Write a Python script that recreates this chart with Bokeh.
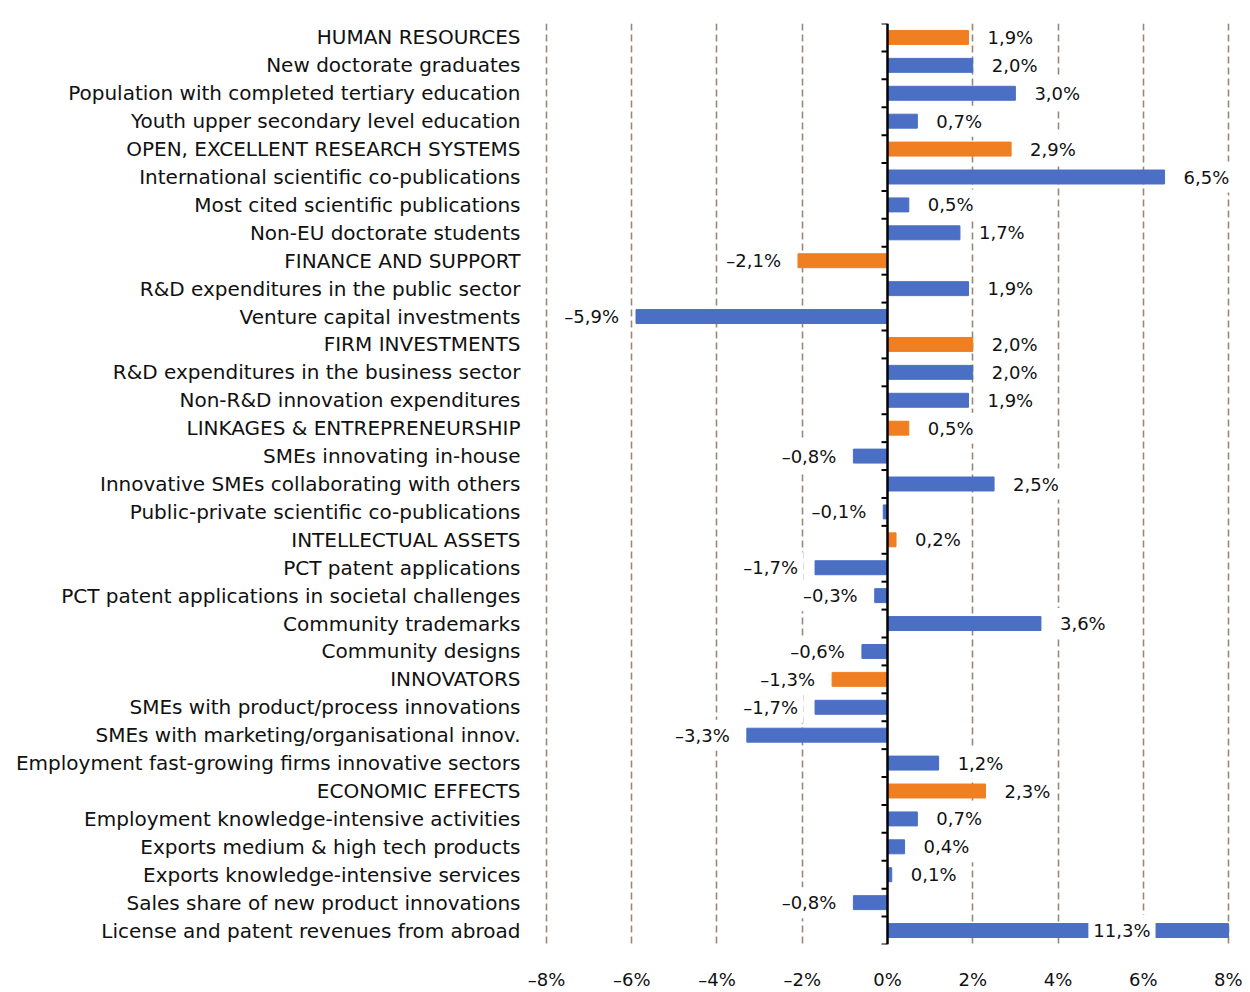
import numpy as np
from bokeh.plotting import figure
from bokeh.models import ColumnDataSource, Range1d, FixedTicker, Span
from bokeh.core.properties import value
from bokeh.embed import file_html
from bokeh.resources import INLINE

categories = [
    "HUMAN RESOURCES",
    "New doctorate graduates",
    "Population with completed tertiary education",
    "Youth upper secondary level education",
    "OPEN, EXCELLENT RESEARCH SYSTEMS",
    "International scientific co-publications",
    "Most cited scientific publications",
    "Non-EU doctorate students",
    "FINANCE AND SUPPORT",
    "R&D expenditures in the public sector",
    "Venture capital investments",
    "FIRM INVESTMENTS",
    "R&D expenditures in the business sector",
    "Non-R&D innovation expenditures",
    "LINKAGES & ENTREPRENEURSHIP",
    "SMEs innovating in-house",
    "Innovative SMEs collaborating with others",
    "Public-private scientific co-publications",
    "INTELLECTUAL ASSETS",
    "PCT patent applications",
    "PCT patent applications in societal challenges",
    "Community trademarks",
    "Community designs",
    "INNOVATORS",
    "SMEs with product/process innovations",
    "SMEs with marketing/organisational innov.",
    "Employment fast-growing firms innovative sectors",
    "ECONOMIC EFFECTS",
    "Employment knowledge-intensive activities",
    "Exports medium & high tech products",
    "Exports knowledge-intensive services",
    "Sales share of new product innovations",
    "License and patent revenues from abroad",
]
values = [1.9, 2.0, 3.0, 0.7, 2.9, 6.5, 0.5, 1.7, -2.1, 1.9, -5.9, 2.0, 2.0, 1.9,
          0.5, -0.8, 2.5, -0.1, 0.2, -1.7, -0.3, 3.6, -0.6, -1.3, -1.7, -3.3, 1.2,
          2.3, 0.7, 0.4, 0.1, -0.8, 11.3]
is_group = [c.isupper() for c in categories]
x_ticks = [-8, -6, -4, -2, 0, 2, 4, 6, 8]
x_tick_labels = ["–8%", "–6%", "–4%", "–2%", "0%", "2%", "4%", "6%", "8%"]

BLUE = "#4a6fc4"
ORANGE = "#f07f22"
XMIN, XMAX = -8, 8
PAD = 0.07

n = len(categories)
idx = np.arange(n)
vals = np.array(values)
colors = [ORANGE if g else BLUE for g in is_group]

def fmt(v):
    return (f"{v:.1f}".replace(".", ",") + "%").replace("-", "–")

lab_x, lab_align, lab_off = [], [], []
for v in vals:
    if v > XMAX:
        lab_x.append(XMAX - 2.5); lab_align.append("center"); lab_off.append(0)
    elif v >= 0:
        lab_x.append(v); lab_align.append("left"); lab_off.append(14)
    else:
        lab_x.append(v); lab_align.append("right"); lab_off.append(-12)

# bars beyond the axis end are cut at the axis end (as in the original chart)
bars = ColumnDataSource(dict(y=idx, right=np.clip(vals, XMIN, XMAX), color=colors))
labels = ColumnDataSource(dict(x=lab_x, y=idx, text=[fmt(v) for v in vals],
                               align=lab_align, off=lab_off))

p = figure(width=1242, height=992, output_backend="svg", toolbar_location=None,
           x_range=Range1d(XMIN - PAD, XMAX + PAD), y_range=Range1d(n - 0.5, -0.5),
           min_border_left=543, min_border_right=11, min_border_top=23,
           min_border_bottom=47)
p.outline_line_color = None
p.background_fill_color = "white"

p.hbar(y="y", left=0, right="right", height=0.5, color="color", source=bars)

# zero line and its tick marks at category boundaries
p.add_layout(Span(location=0, dimension="height", line_color="black", line_width=2.5))
bounds = np.arange(n + 1) - 0.5
p.segment(x0=np.zeros(n + 1), x1=np.full(n + 1, -0.14), y0=bounds, y1=bounds,
          line_color="black", line_width=2)

p.text(x="x", y="y", text="text", text_align="align", x_offset="off",
       text_baseline="middle", source=labels, text_font=value("DejaVu Sans"),
       text_font_size="18px", text_color="#111111",
       background_fill_color="white", padding=5)

# x axis
p.xaxis.ticker = FixedTicker(ticks=x_ticks)
p.xaxis.major_label_overrides = {t: l for t, l in zip(x_ticks, x_tick_labels)}
p.xaxis.axis_line_color = None
p.xaxis.major_tick_line_color = None
p.xaxis.minor_tick_line_color = None
p.xaxis.major_label_standoff = 18
p.xaxis.major_label_text_font = "DejaVu Sans"
p.xaxis.major_label_text_font_size = "18px"
p.xaxis.major_label_text_color = "#111111"

# y axis with category names
p.yaxis.ticker = FixedTicker(ticks=list(idx))
p.yaxis.major_label_overrides = {int(i): c for i, c in zip(idx, categories)}
p.yaxis.axis_line_color = None
p.yaxis.major_tick_line_color = None
p.yaxis.minor_tick_line_color = None
p.yaxis.major_label_standoff = 17
p.yaxis.major_label_text_font = "DejaVu Sans"
p.yaxis.major_label_text_font_size = "20px"
p.yaxis.major_label_text_color = "#111111"

# grid
p.ygrid.grid_line_color = None
p.xgrid.ticker = FixedTicker(ticks=[t for t in x_ticks if t != 0])
p.xgrid.grid_line_color = "#9c8678"
p.xgrid.grid_line_dash = "7 4"
p.xgrid.grid_line_width = 1.6

open("out.html", "w").write(file_html(p, INLINE))
